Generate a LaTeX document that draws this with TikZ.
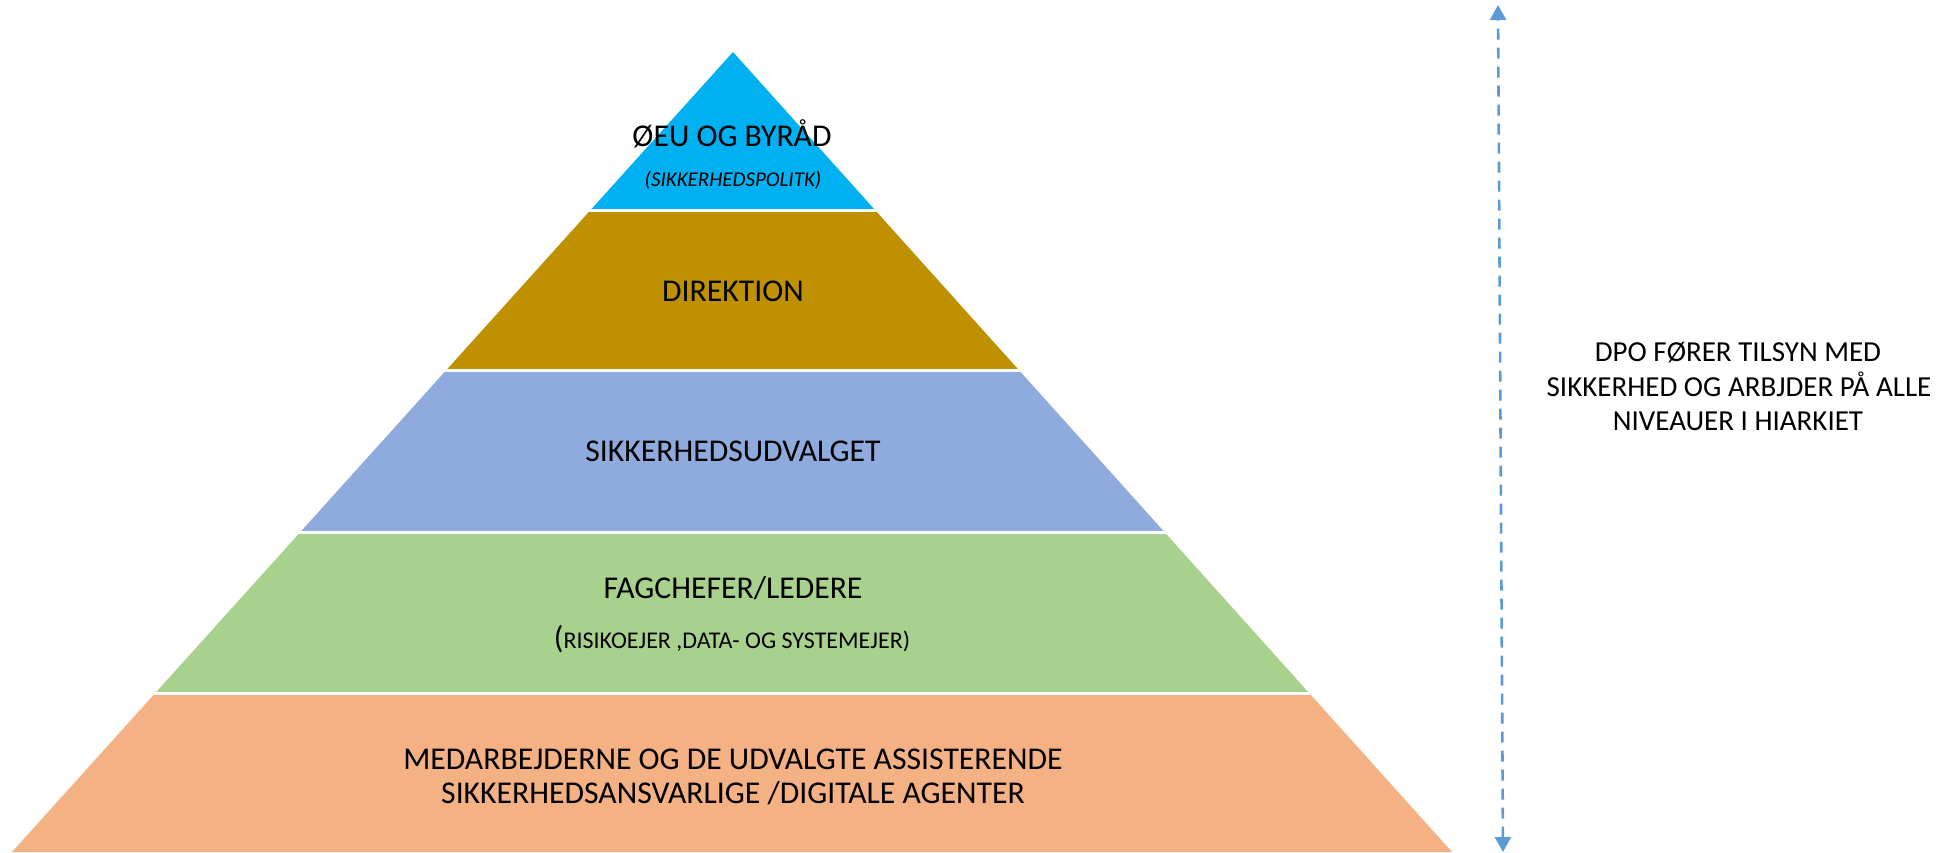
\documentclass[tikz,border=0pt]{standalone}
\usepackage{fontspec}
\setmainfont{Carlito}
\usetikzlibrary{arrows.meta}
\definecolor{cTop}{HTML}{00B0F0}
\definecolor{cDir}{HTML}{BF9000}
\definecolor{cUdv}{HTML}{8FAADC}
\definecolor{cFag}{HTML}{A9D18E}
\definecolor{cMed}{HTML}{F4B183}
\definecolor{cArr}{HTML}{5B9BD5}
\tikzset{
  lbl/.style={anchor=base, inner sep=0pt, text=black, font=\fontsize{31.7}{37}\selectfont},
  sublbl/.style={anchor=base, inner sep=0pt, text=black, font=\fontsize{21}{25}\selectfont\itshape},
  sidelbl/.style={anchor=base, inner sep=0pt, text=black, font=\fontsize{29}{35}\selectfont},
  sep/.style={draw=white, line width=3pt},
  dpoarrow/.style={draw=cArr, line width=2.6pt, dash pattern=on 11pt off 8pt,
    {Triangle[width=16pt,length=15pt]}-{Triangle[width=16pt,length=15pt]}}
}
\begin{document}
\begin{tikzpicture}[x=1pt,y=-1pt]
\useasboundingbox (0,0) rectangle (1958,852);
\coordinate (apex) at (733,52);
\coordinate (bl) at (12,852);
\coordinate (br) at (1452,852);
\begin{scope}
  \clip (apex) -- (bl) -- (br) -- cycle;
  \fill[cTop] (0,40) rectangle (1958,211);
  \fill[cDir] (0,211) rectangle (1958,371);
  \fill[cUdv] (0,371) rectangle (1958,532);
  \fill[cFag] (0,532) rectangle (1958,693);
  \fill[cMed] (0,693) rectangle (1958,860);
  \draw[sep] (0,210.5) -- (1958,210.5);
  \draw[sep] (0,370) -- (1958,370);
  \draw[sep] (0,532) -- (1958,532);
  \draw[sep] (0,693.5) -- (1958,693.5);
\end{scope}
\node[lbl] (t1) at (732,146) {ØEU OG BYRÅD};
\node[sublbl] (t1b) at (733,186) {(SIKKERHEDSPOLITK)};
\node[lbl] (t2) at (733,301.5) {DIREKTION};
\node[lbl] (t3) at (733,461) {SIKKERHEDSUDVALGET};
\node[lbl] (t4) at (733,598) {FAGCHEFER/LEDERE};
\node[anchor=base, inner sep=0pt, text=black] (t4b) at (732,648.3) {\fontsize{31.7}{37}\selectfont(\fontsize{24}{29}\selectfont RISIKOEJER ,DATA- OG SYSTEMEJER)};
\node[lbl] (t5) at (733,769) {MEDARBEJDERNE OG DE UDVALGTE ASSISTERENDE};
\node[lbl] (t5b) at (733,803) {SIKKERHEDSANSVARLIGE /DIGITALE AGENTER};
\node[sidelbl] (s1) at (1738,361) {DPO FØRER TILSYN MED};
\node[sidelbl] (s2) at (1739,396.5) {SIKKERHED OG ARBJDER PÅ ALLE};
\node[sidelbl] (s3) at (1738,430.5) {NIVEAUER I HIARKIET};
\coordinate (atop) at (1498,5);
\coordinate (abot) at (1503,852);
\draw[dpoarrow] (abot) -- (atop);
\end{tikzpicture}
\end{document}
